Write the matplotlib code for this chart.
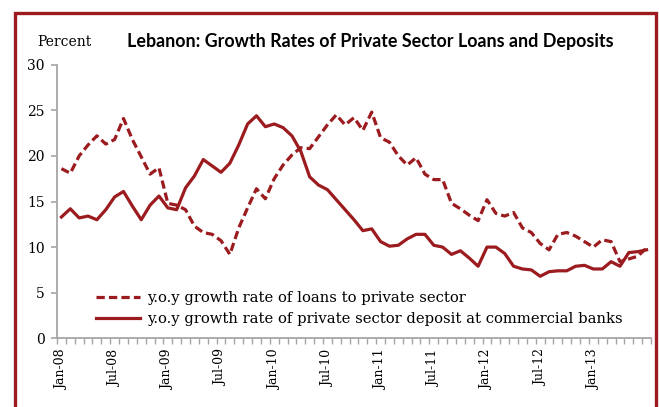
import matplotlib.pyplot as plt
from matplotlib.patches import Rectangle
from matplotlib.ticker import FixedLocator

# monthly y.o.y growth rates, Jan-08 .. Jul-13
meses = ['Jan-08', 'Jul-08', 'Jan-09', 'Jul-09', 'Jan-10', 'Jul-10',
         'Jan-11', 'Jul-11', 'Jan-12', 'Jul-12', 'Jan-13']

emprestimos = [18.6, 18.1, 20.0, 21.2, 22.2, 21.3, 21.8, 24.1, 21.8, 19.9,
               18.0, 18.7, 14.8, 14.6, 14.1, 12.3, 11.6, 11.4, 10.7, 9.2,
               12.1, 14.3, 16.4, 15.3, 17.5, 19.0, 20.1, 20.9, 20.8, 22.1,
               23.4, 24.5, 23.4, 24.2, 22.8, 24.8, 22.0, 21.5, 20.0, 19.0,
               19.8, 18.0, 17.4, 17.4, 14.8, 14.2, 13.5, 12.9, 15.2, 13.7,
               13.4, 13.8, 12.1, 11.6, 10.4, 9.7, 11.4, 11.6, 11.2, 10.6,
               10.0, 10.8, 10.6, 8.4, 8.7, 9.0, 9.9]

depositos = [13.3, 14.2, 13.2, 13.4, 13.0, 14.1, 15.5, 16.1, 14.5, 13.0,
             14.6, 15.6, 14.3, 14.1, 16.5, 17.8, 19.6, 18.9, 18.2, 19.2,
             21.2, 23.5, 24.4, 23.2, 23.5, 23.1, 22.2, 20.5, 17.7, 16.8,
             16.3, 15.2, 14.1, 13.0, 11.8, 12.0, 10.6, 10.1, 10.2, 10.9,
             11.4, 11.4, 10.2, 10.0, 9.2, 9.6, 8.8, 7.9, 10.0, 10.0,
             9.3, 7.9, 7.6, 7.5, 6.8, 7.3, 7.4, 7.4, 7.9, 8.0,
             7.6, 7.6, 8.4, 7.9, 9.4, 9.5, 9.7]

vermelho = '#9b1b1f'
cinza = '#a6a6a6'
serif = 'DejaVu Serif'

fig = plt.figure(figsize=(6.59, 4.07), dpi=100)
W, H = 659, 407

# moldura vermelha
fig.patches.append(Rectangle((14.5 / W, -0.05), 641 / W, (H - 12.5) / H + 0.05,
                             transform=fig.transFigure, fill=False,
                             edgecolor=vermelho, linewidth=2.4))

ax = fig.add_axes([57 / W, (H - 338.3) / H, (651 - 57) / W, (338.3 - 64.7) / H])

n = len(emprestimos)
x = list(range(n))
ax.plot(x, emprestimos, color=vermelho, lw=2.3, dashes=(2.6, 1.3),
        label='y.o.y growth rate of loans to private sector')
ax.plot(x, depositos, color=vermelho, lw=2.3,
        label='y.o.y growth rate of private sector deposit at commercial banks')

ax.set_xlim(-0.5, n - 0.5)
ax.set_ylim(0, 30)

for lado in ['top', 'right']:
    ax.spines[lado].set_visible(False)
for lado in ['left', 'bottom']:
    ax.spines[lado].set_color(cinza)
    ax.spines[lado].set_linewidth(1.3)

ax.set_yticks(range(0, 31, 5))
ax.tick_params(axis='y', direction='out', length=4, width=1.2, color=cinza,
               labelsize=10, pad=5)

ax.xaxis.set_major_locator(FixedLocator([6 * k for k in range(len(meses))]))
ax.set_xticklabels(meses, rotation=90, va='top', ha='center')
ax.xaxis.set_minor_locator(FixedLocator([k - 0.5 for k in range(n + 1)]))
ax.tick_params(axis='x', which='major', length=0, labelsize=9, pad=8)
ax.tick_params(axis='x', which='minor', direction='out', length=4, width=1.0,
               color=cinza)

for t in ax.get_xticklabels() + ax.get_yticklabels():
    t.set_fontfamily(serif)

leg = ax.legend(loc='upper left', bbox_to_anchor=(90 / W, (H - 285) / H),
                bbox_transform=fig.transFigure, frameon=False,
                prop={'family': serif, 'size': 10.65}, handlelength=3.0,
                handletextpad=0.47, labelspacing=0.5, borderaxespad=0)

fig.text(37 / W, (H - 42) / H, 'Percent', family=serif, fontsize=10,
         va='center', ha='left')
fig.text(127 / W, (H - 42) / H,
         'Lebanon: Growth Rates of Private Sector Loans and Deposits',
         family='Lato', fontweight='bold', fontsize=12.9, va='center', ha='left')

fig.savefig('out.png', dpi=100)
